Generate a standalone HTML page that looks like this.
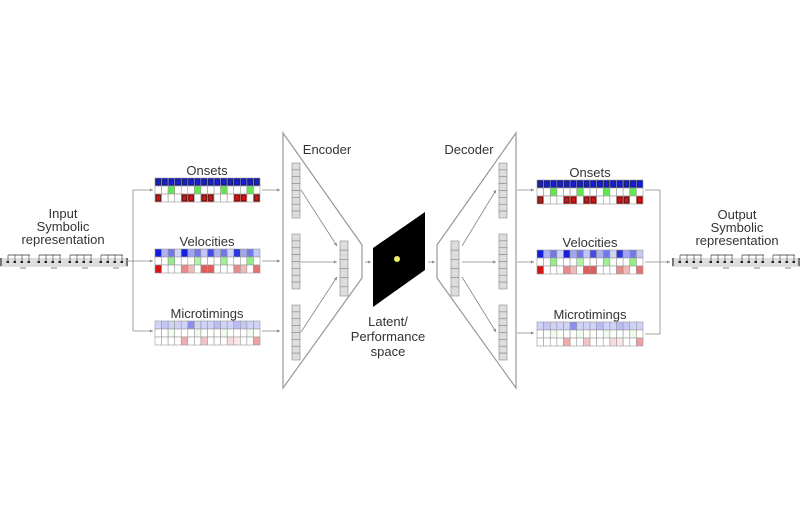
<!DOCTYPE html>
<html><head><meta charset="utf-8">
<style>
html,body{margin:0;padding:0;background:#fff;}
svg{display:block;}
text{font-family:"Liberation Sans",sans-serif;fill:#333;}
</style></head>
<body>
<svg id="s" width="800" height="525" viewBox="0 0 800 525" xmlns="http://www.w3.org/2000/svg">
<defs>
<marker id="a" markerWidth="4" markerHeight="4" refX="4" refY="2" orient="auto"><path d="M0,0 L4,2 L0,4z" fill="#888"/></marker>
</defs>
<g stroke="#888" stroke-width="0.8" fill="none">
<line x1="121" y1="261" x2="133" y2="261"/>
<path d="M133,190 L133,331"/>
<line x1="133" y1="190" x2="153" y2="190" marker-end="url(#a)"/>
<line x1="133" y1="261" x2="153" y2="261" marker-end="url(#a)"/>
<line x1="133" y1="331" x2="153" y2="331" marker-end="url(#a)"/>
<line x1="262" y1="190" x2="280" y2="190" marker-end="url(#a)"/>
<line x1="262" y1="261" x2="280" y2="261" marker-end="url(#a)"/>
<line x1="262" y1="331" x2="280" y2="331" marker-end="url(#a)"/>
<path d="M283,133 L362,245 L362,278 L283,388 Z" stroke="#999" stroke-width="1.2"/>
<line x1="301" y1="190" x2="337" y2="246" marker-end="url(#a)"/>
<line x1="301" y1="262" x2="337" y2="262" marker-end="url(#a)"/>
<line x1="301" y1="332" x2="337" y2="277" marker-end="url(#a)"/>
<line x1="365" y1="262" x2="371" y2="262" marker-end="url(#a)"/>
<line x1="428" y1="262" x2="435" y2="262" marker-end="url(#a)"/>
<path d="M516,133 L437,245 L437,278 L516,388 Z" stroke="#999" stroke-width="1.2"/>
<line x1="462" y1="246" x2="496" y2="190" marker-end="url(#a)"/>
<line x1="462" y1="262" x2="496" y2="262" marker-end="url(#a)"/>
<line x1="462" y1="277" x2="496" y2="332" marker-end="url(#a)"/>
<line x1="517" y1="190" x2="534" y2="190" marker-end="url(#a)"/>
<line x1="517" y1="262" x2="534" y2="262" marker-end="url(#a)"/>
<line x1="517" y1="333" x2="534" y2="333" marker-end="url(#a)"/>
<path d="M645,190 L660,190 L660,334 L645,334"/>
<line x1="645" y1="262" x2="670" y2="262" marker-end="url(#a)"/>
</g>
<polygon points="373,248 425,212 425,270 373,307" fill="#000"/>
<circle cx="397" cy="259" r="3" fill="#ee6"/>
<g id="dyn"></g>
<text x="327" y="154" font-size="13" text-anchor="middle">Encoder</text>
<text x="469" y="154" font-size="13" text-anchor="middle">Decoder</text>
<text x="388" y="326" font-size="13" text-anchor="middle">Latent/</text>
<text x="388" y="341" font-size="13" text-anchor="middle">Performance</text>
<text x="388" y="356" font-size="13" text-anchor="middle">space</text>
<text x="63" y="218" font-size="13" text-anchor="middle">Input</text>
<text x="63" y="231" font-size="13" text-anchor="middle">Symbolic</text>
<text x="63" y="244" font-size="13" text-anchor="middle">representation</text>
<text x="737" y="219" font-size="13" text-anchor="middle">Output</text>
<text x="737" y="232" font-size="13" text-anchor="middle">Symbolic</text>
<text x="737" y="245" font-size="13" text-anchor="middle">representation</text>
<text x="207" y="175" font-size="13" text-anchor="middle">Onsets</text>
<text x="207" y="246" font-size="13" text-anchor="middle">Velocities</text>
<text x="207" y="318" font-size="13" text-anchor="middle">Microtimings</text>
<text x="590" y="177" font-size="13" text-anchor="middle">Onsets</text>
<text x="590" y="247" font-size="13" text-anchor="middle">Velocities</text>
<text x="590" y="319" font-size="13" text-anchor="middle">Microtimings</text>
</svg>
<script>
var g=document.getElementById('dyn'),NS='http://www.w3.org/2000/svg';
function r(x,y,w,h,f,s,sw){var e=document.createElementNS(NS,'rect');e.setAttribute('x',x);e.setAttribute('y',y);e.setAttribute('width',w);e.setAttribute('height',h);e.setAttribute('fill',f);e.setAttribute('stroke',s||'#999');e.setAttribute('stroke-width',sw||0.6);g.appendChild(e);}
function l(x1,y1,x2,y2,c,w){var e=document.createElementNS(NS,'line');e.setAttribute('x1',x1);e.setAttribute('y1',y1);e.setAttribute('x2',x2);e.setAttribute('y2',y2);e.setAttribute('stroke',c);e.setAttribute('stroke-width',w||0.7);g.appendChild(e);}
var G=[2,6,10,14],R=[0,4,5,7,8,12,13,15];
var velB=[1,.35,.6,.2,1,.4,.6,.25,.8,.35,.6,.2,.9,.4,.6,.25];
var velR=[1,0,0,0,.5,.3,0,.7,.7,0,0,0,.5,.3,0,.6];
var micB=[.2,.25,.2,.2,.2,.5,.2,.2,.2,.3,.2,.2,.3,.25,.2,.2];
var micR=[0,0,0,0,.35,0,0,.25,0,0,0,.15,.1,0,0,.4];
function mix(c,a){return 'rgb('+[0,1,2].map(function(i){return Math.round(255+(c[i]-255)*a)}).join(',')+')';}
var BL=[20,30,220],GR=[100,230,80],RD=[210,20,20];
function grid(x0,y0,type){var W=(x0<400?105:106)/16,H=8;
 for(var c=0;c<16;c++){for(var k=0;k<3;k++){var f='#fff',x=x0+c*W,y=y0+k*H;
  if(type==0){if(k==0)f=mix(BL,1);if(k==1&&G.indexOf(c)>=0)f=mix(GR,1);if(k==2&&R.indexOf(c)>=0)f=mix(RD,1);}
  if(type==1){if(k==0)f=mix(BL,velB[c]);if(k==1&&G.indexOf(c)>=0)f=mix(GR,.5+.1*(c%3));if(k==2&&velR[c])f=mix(RD,velR[c]);}
  if(type==2){if(k==0)f=mix(BL,micB[c]);if(k==1&&G.indexOf(c)>=0)f=mix(GR,.1);if(k==2&&micR[c])f=mix(RD,micR[c]);}
  r(x,y,W,H,f,'#999',0.6);
  if(type==0&&(k==0||(k==2&&R.indexOf(c)>=0)))r(x+1.2,y+1.2,W-2.4,H-2.4,'none','#222',0.6);
 }}}
grid(155,178,0);grid(155,249,1);grid(155,321,2);
grid(537,180,0);grid(537,250,1);grid(537,322,2);
function col(x,y,n){for(var i=0;i<n;i++)r(x,y+i*55/n,8,55/n,'#ddd','#888',0.6);}
col(292,163,8);col(292,234,8);col(292,305,8);col(340,241,6);
col(499,163,8);col(499,234,8);col(499,305,8);col(451,241,6);
function staff(x0){r(x0,258,128,9,'#ddd','none',0);
 for(var m=0;m<4;m++){var bx=x0+8+m*31;l(bx,255,bx+22,255,'#333',0.8);
  for(var j=0;j<4;j++){l(bx+j*7,255,bx+j*7,262,'#333',0.6);r(bx+j*7-1.5,261,2.5,2,'#222','none',0);}
  l(bx+12,268,bx+18,268,'#333',0.6);}
 l(x0+1,258,x0+1,266,'#333',1.2);l(x0+127,258,x0+127,266,'#333',1.2);}
staff(0);staff(672);
</script>
</body></html>
